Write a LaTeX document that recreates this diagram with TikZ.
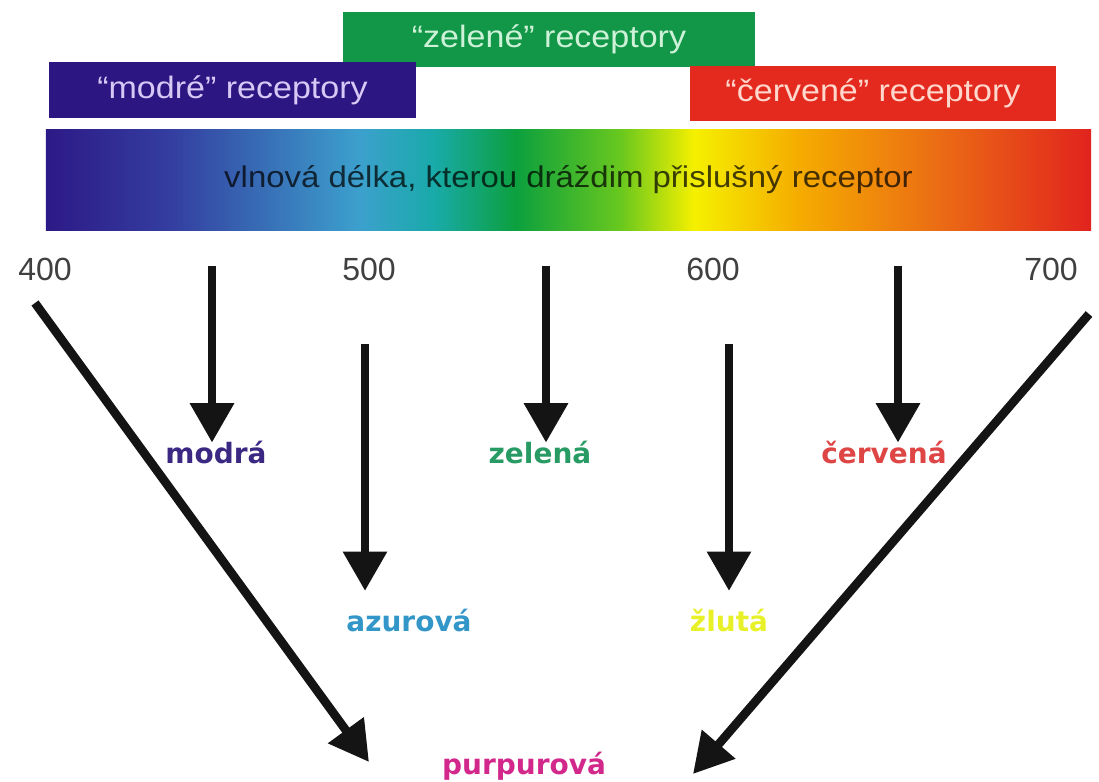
\documentclass[tikz,border=0pt]{standalone}
\usepackage{fontspec}
\setmainfont{Liberation Sans}
\newfontfamily\boxfont[FakeStretch=1.1]{Liberation Sans}
\newfontfamily\huefont{DejaVu Sans}
\usetikzlibrary{arrows.meta,positioning}
\definecolor{modrabox}{RGB}{43,22,130}
\definecolor{zelenabox}{RGB}{18,150,72}
\definecolor{cervenabox}{RGB}{228,42,30}
\definecolor{modratext}{RGB}{215,200,245}
\definecolor{zelenatext}{RGB}{205,242,215}
\definecolor{cervenatext}{RGB}{255,215,205}
\definecolor{spc0}{RGB}{45,25,135}
\definecolor{spc1}{RGB}{52,62,160}
\definecolor{spc2}{RGB}{60,160,205}
\definecolor{spc3}{RGB}{25,170,170}
\definecolor{spc4}{RGB}{12,160,62}
\definecolor{spc5}{RGB}{105,200,30}
\definecolor{spc6}{RGB}{245,240,0}
\definecolor{spc7}{RGB}{245,172,0}
\definecolor{spc8}{RGB}{235,110,20}
\definecolor{spc9}{RGB}{225,35,30}
\pgfdeclarehorizontalshading{spectrum}{100bp}{color(0bp)=(spc0); color(25bp)=(spc0);
  color(31bp)=(spc1); color(40bp)=(spc2); color(43.5bp)=(spc3); color(47.5bp)=(spc4);
  color(52.5bp)=(spc5); color(56bp)=(spc6); color(61bp)=(spc7); color(67.5bp)=(spc8);
  color(75bp)=(spc9); color(100bp)=(spc9)}
\tikzset{
    %Define standard arrow tip
    >={Triangle[length=28pt,width=30pt]},
    %Define style for receptor boxes
    receptor/.style={
           rectangle,
           inner sep=0pt,
           minimum width=9.175cm,
           minimum height=1.4cm,
           font=\boxfont\fontsize{22}{26}\selectfont,
           text centered},
    %Define style for the spectrum
    spectrumbox/.style={
           rectangle,
           shade,
           shading=spectrum,
           minimum width=26.125cm,
           minimum height=2.5cm,
           font=\boxfont\fontsize{21.3}{25}\selectfont,
           text=black,
           text opacity=0.72},
    nmlabel/.style={
           font=\fontsize{22.8}{26}\selectfont,
           text=black!75},
    huelabel/.style={
           anchor=base,
           inner sep=0pt,
           outer sep=7pt,
           text height=0.75em,
           text depth=0.2em,
           font=\huefont\bfseries\fontsize{19.9}{24}\selectfont},
    % Define arrow style
    mixarrow/.style={
           ->,
           line width=6.2pt,
           black!92}
}
\begin{document}
\begin{tikzpicture}[x=0.025cm,y=-0.025cm]
\useasboundingbox (0,0) rectangle (1099,782);
 %receptors
\node[receptor, fill=zelenabox, text=zelenatext, minimum width=10.3cm, minimum height=1.375cm] (zelene) at (549,39.5) {“zelené” receptory};
\node[receptor, fill=modrabox, text=modratext] (modre) at (232.5,90) {“modré” receptory};
\node[receptor, fill=cervenabox, text=cervenatext, minimum width=9.15cm, minimum height=1.375cm] (cervene) at (873,93.5) {“červené” receptory};
\node[spectrumbox] (spektrum) at (568.5,180) {vlnová délka, kterou dráždim přislušný receptor};
 %wavelengths
\node[nmlabel] (n400) at (45,269) {400};
\node[nmlabel] (n500) at (369,269) {500};
\node[nmlabel] (n600) at (713,269) {600};
\node[nmlabel] (n700) at (1051,269) {700};
 %colours
\node[huelabel, text={rgb,255:red,58;green,40;blue,130}] (modra) at (216,463) {modrá};
\node[huelabel, text={rgb,255:red,40;green,155;blue,100}] (zelena) at (540,463) {zelená};
\node[huelabel, text={rgb,255:red,222;green,70;blue,70}] (cervena) at (884,463) {červená};
\node[huelabel, text={rgb,255:red,50;green,150;blue,200}] (azurova) at (409,631) {azurová};
\node[huelabel, text={rgb,255:red,232;green,240;blue,40}] (zluta) at (729,631) {žlutá};
\node[huelabel, text={rgb,255:red,210;green,40;blue,140}] (purpurova) at (524,774) {purpurová};
\coordinate (c400) at (35,303);
\coordinate (c450) at (212,266);
\coordinate (c500) at (365,344);
\coordinate (c550) at (546,266);
\coordinate (c600) at (729,344);
\coordinate (c650) at (898,266);
\coordinate (c700) at (1089,314);
\coordinate (purpleva) at (369,762);
\coordinate (purpprava) at (693,774);
\path[mixarrow]
    (c450) edge (modra.north -| c450)
    (c550) edge (zelena.north -| c550)
    (c650) edge (cervena.north -| c650)
    (c500) edge[shorten >=14pt] (azurova.north -| c500)
    (c600) edge[shorten >=14pt] (zluta.north -| c600)
    (c400) edge (purpleva)
    (c700) edge (purpprava);
\end{tikzpicture}
\end{document}
